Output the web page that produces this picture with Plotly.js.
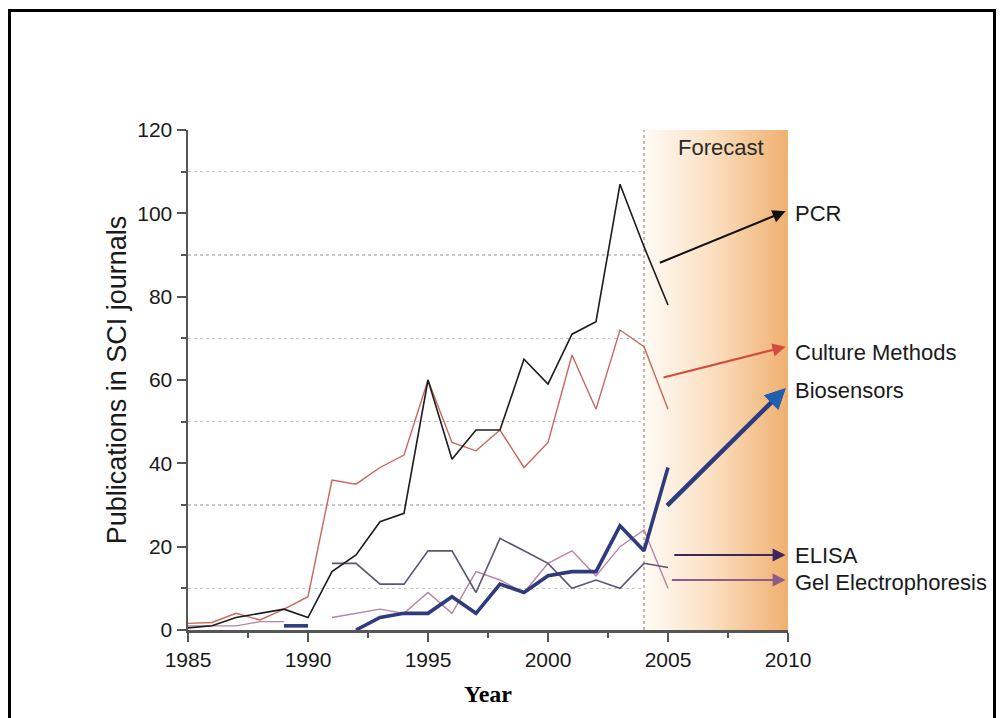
<!DOCTYPE html>
<html>
<head>
<meta charset="utf-8">
<script src="https://cdn.plot.ly/plotly-3.0.1.min.js"></script>
<style>
  html, body { margin: 0; padding: 0; background: #fff; overflow: hidden; }
  #chart { position: absolute; left: 0; top: 0; width: 1001px; height: 718px; }
  #frame { position: absolute; left: 8px; top: 9px; width: 982px; height: 760px; border: 3px solid #000; pointer-events: none; }
</style>
</head>
<body>
<div id="chart"></div>
<div id="frame"></div>
<script>
// ---- data ----
const years = [1985,1986,1987,1988,1989,1990,1991,1992,1993,1994,1995,1996,1997,1998,1999,2000,2001,2002,2003,2004,2005];
const pcr        = [0.5,1,3,4,5,3,14,18,26,28,60,41,48,48,65,59,71,74,107,92,78];
const culture    = [1.6,1.8,4,2.4,5,8,36,35,39,42,60,45,43,48,39,45,66,53,72,68,53];
const elisa      = [null,null,null,null,null,null,16,16,11,11,19,19,9,22,19,16,10,12,10,16,15];
const gel        = [1,1,1,2,2,null,3,4,5,4,9,4,14,12,9,16,19,13,20,24,10];
const biosensors = [null,null,null,null,1,1,null,0,3,4,4,8,4,11,9,13,14,14,25,19,39];

const forecastRange = [2004, 2010];
const yRange = [0, 120];

const seriesNames = ["PCR", "Culture Methods", "Biosensors", "ELISA", "Gel Electrophoresis"];
// forecast arrows: tail (x,y) -> head (x,y)
const arrowTailX = [2004.6, 2004.75, 2004.9, 2005.2, 2005.1];
const arrowTailY = [88, 60.5, 29.5, 18, 12];
const arrowHeadX = [2009.9, 2009.9, 2009.9, 2009.9, 2009.9];
const arrowHeadY = [100.5, 68, 58, 18, 12];
const labelY     = [100, 66.5, 57.5, 18, 11.5];

const colors = {
  pcr: "#1c1c1c", culture: "#c9675a", elisa: "#5e5570", gel: "#b783a3", bio: "#2f3b7c"
};
const arrowColors = ["#111111", "#d24b3c", "#2b3d80", "#3e2560", "#8e5c86"];
const arrowWidths = [2, 2, 4.5, 2, 2];

const font = "Liberation Sans, Arial, sans-serif";

const traces = [
  {
    x: [forecastRange[0], forecastRange[1], forecastRange[1], forecastRange[0], forecastRange[0]],
    y: [yRange[0], yRange[0], yRange[1], yRange[1], yRange[0]],
    type: "scatter", mode: "lines", fill: "toself",
    line: { width: 0, color: "rgba(0,0,0,0)" },
    fillgradient: { type: "horizontal", colorscale: [[0, "#fffbf6"], [0.45, "#fbe1c4"], [1, "#efb070"]] },
    hoverinfo: "skip", showlegend: false
  },
  {
    x: [forecastRange[0], forecastRange[0]], y: yRange,
    type: "scatter", mode: "lines",
    line: { color: "#b9a99a", width: 1.6, dash: "dot" },
    hoverinfo: "skip", showlegend: false
  },
  { x: years, y: gel, name: "Gel Electrophoresis", type: "scatter", mode: "lines", line: { color: colors.gel, width: 1.4 } },
  { x: years, y: elisa, name: "ELISA", type: "scatter", mode: "lines", line: { color: colors.elisa, width: 1.6 } },
  { x: years, y: culture, name: "Culture Methods", type: "scatter", mode: "lines", line: { color: colors.culture, width: 1.4 } },
  { x: years, y: pcr, name: "PCR", type: "scatter", mode: "lines", line: { color: colors.pcr, width: 1.6 } },
  { x: years, y: biosensors, name: "Biosensors", type: "scatter", mode: "lines", connectgaps: false, line: { color: colors.bio, width: 3.6 } }
];

const annotations = [];
for (let i = 0; i < seriesNames.length; i++) {
  annotations.push({
    x: arrowHeadX[i], y: arrowHeadY[i], xref: "x", yref: "y",
    ax: arrowTailX[i], ay: arrowTailY[i], axref: "x", ayref: "y",
    text: "", showarrow: true, arrowhead: 2, arrowsize: i === 2 ? 0.9 : 1.3,
    arrowwidth: arrowWidths[i], arrowcolor: arrowColors[i]
  });
  annotations.push({
    x: forecastRange[1], y: labelY[i], xref: "x", yref: "y",
    text: seriesNames[i], showarrow: false, xanchor: "left", yanchor: "middle", xshift: 5,
    font: { family: font, size: 22, color: "#1a1a1a" }
  });
}
// blue head on the Biosensors arrow
annotations.push({
  x: arrowHeadX[2], y: arrowHeadY[2], xref: "x", yref: "y",
  ax: arrowHeadX[2] - (arrowHeadX[2] - arrowTailX[2]) * 0.06,
  ay: arrowHeadY[2] - (arrowHeadY[2] - arrowTailY[2]) * 0.06, axref: "x", ayref: "y",
  text: "", showarrow: true, arrowhead: 2, arrowsize: 0.9, arrowwidth: 4.5, arrowcolor: "#1f5fb2"
});
annotations.push({
  x: (forecastRange[0] + forecastRange[1]) / 2 + 0.2, y: yRange[1], xref: "x", yref: "y",
  text: "Forecast", showarrow: false, yanchor: "top", yshift: -3,
  font: { family: font, size: 22, color: "#2a2a2a" }
});

const layout = {
  width: 1001, height: 718,
  margin: { l: 188, r: 213, t: 130, b: 88 },
  paper_bgcolor: "#ffffff", plot_bgcolor: "#ffffff",
  showlegend: false,
  xaxis: {
    range: [1985, 2010], tickmode: "linear", tick0: 1985, dtick: 5,
    showgrid: false, zeroline: false,
    showline: true, linecolor: "#555555", linewidth: 2.5,
    ticks: "outside", ticklen: 9, tickwidth: 2, tickcolor: "#555555",
    tickfont: { family: font, size: 21, color: "#1a1a1a" },
    minor: { tick0: 1985, dtick: 2.5, ticks: "outside", ticklen: 5, tickwidth: 2, tickcolor: "#555555", showgrid: false },
    title: { text: "<b>Year</b>", font: { family: "Liberation Serif, Times New Roman, serif", size: 24, color: "#000" }, standoff: 16 }
  },
  yaxis: {
    range: yRange, tickmode: "linear", tick0: 0, dtick: 20,
    showgrid: false, zeroline: false,
    showline: true, linecolor: "#555555", linewidth: 2.5,
    ticks: "outside", ticklen: 9, tickwidth: 2, tickcolor: "#555555",
    tickfont: { family: font, size: 21, color: "#1a1a1a" },
    minor: { tick0: 0, dtick: 10, ticks: "outside", ticklen: 5, tickwidth: 2, tickcolor: "#555555",
             showgrid: true, gridcolor: "#c8c8c8", griddash: "dot", gridwidth: 1.5 },
    title: { text: "Publications in SCI journals", font: { family: font, size: 27, color: "#1a1a1a" }, standoff: 3 }
  },
  annotations: annotations
};

Plotly.newPlot("chart", traces, layout, { displayModeBar: false, staticPlot: true });
</script>
</body>
</html>
